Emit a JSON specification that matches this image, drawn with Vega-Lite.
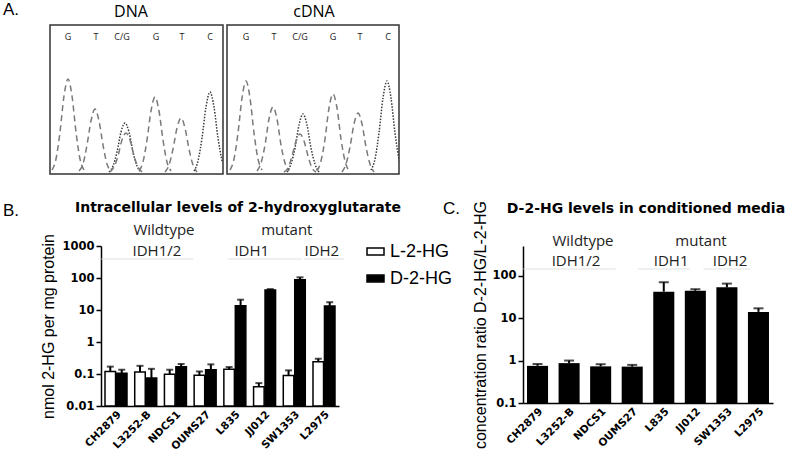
{
  "$schema": "https://vega.github.io/schema/vega-lite/v6.json",
  "padding": {"left": 2, "top": 1, "right": 0, "bottom": 0},
  "columns": 1,
  "align": "none",
  "bounds": "full",
  "spacing": 24,
  "resolve": {"scale": {"fill": "independent", "color": "independent", "strokeDash": "independent"}, "legend": {"fill": "independent", "color": "independent", "strokeDash": "independent"}},
  "datasets": {
    "trace": [
      {"p":"DNA","id":"d1","s":"dash","x":2,"y":4},{"p":"DNA","id":"d1","s":"dash","x":6,"y":15},{"p":"DNA","id":"d1","s":"dash","x":10,"y":42},{"p":"DNA","id":"d1","s":"dash","x":14,"y":78},{"p":"DNA","id":"d1","s":"dash","x":18,"y":95},{"p":"DNA","id":"d1","s":"dash","x":22,"y":78},{"p":"DNA","id":"d1","s":"dash","x":26,"y":42},{"p":"DNA","id":"d1","s":"dash","x":30,"y":15},{"p":"DNA","id":"d1","s":"dash","x":34,"y":4},
      {"p":"DNA","id":"d2","s":"dash","x":29,"y":3},{"p":"DNA","id":"d2","s":"dash","x":33,"y":10},{"p":"DNA","id":"d2","s":"dash","x":37,"y":29},{"p":"DNA","id":"d2","s":"dash","x":41,"y":53},{"p":"DNA","id":"d2","s":"dash","x":45,"y":65},{"p":"DNA","id":"d2","s":"dash","x":49,"y":53},{"p":"DNA","id":"d2","s":"dash","x":53,"y":29},{"p":"DNA","id":"d2","s":"dash","x":57,"y":10},{"p":"DNA","id":"d2","s":"dash","x":61,"y":3},
      {"p":"DNA","id":"d3","s":"dot","x":59,"y":2},{"p":"DNA","id":"d3","s":"dot","x":63,"y":8},{"p":"DNA","id":"d3","s":"dot","x":67,"y":22},{"p":"DNA","id":"d3","s":"dot","x":71,"y":42},{"p":"DNA","id":"d3","s":"dot","x":75,"y":51},{"p":"DNA","id":"d3","s":"dot","x":79,"y":42},{"p":"DNA","id":"d3","s":"dot","x":83,"y":22},{"p":"DNA","id":"d3","s":"dot","x":87,"y":8},{"p":"DNA","id":"d3","s":"dot","x":91,"y":2},
      {"p":"DNA","id":"d4","s":"dash","x":60,"y":2},{"p":"DNA","id":"d4","s":"dash","x":64,"y":7},{"p":"DNA","id":"d4","s":"dash","x":68,"y":18},{"p":"DNA","id":"d4","s":"dash","x":72,"y":34},{"p":"DNA","id":"d4","s":"dash","x":76,"y":41},{"p":"DNA","id":"d4","s":"dash","x":80,"y":34},{"p":"DNA","id":"d4","s":"dash","x":84,"y":18},{"p":"DNA","id":"d4","s":"dash","x":88,"y":7},{"p":"DNA","id":"d4","s":"dash","x":92,"y":2},
      {"p":"DNA","id":"d5","s":"dash","x":89,"y":3},{"p":"DNA","id":"d5","s":"dash","x":93,"y":12},{"p":"DNA","id":"d5","s":"dash","x":97,"y":34},{"p":"DNA","id":"d5","s":"dash","x":101,"y":63},{"p":"DNA","id":"d5","s":"dash","x":105,"y":77},{"p":"DNA","id":"d5","s":"dash","x":109,"y":63},{"p":"DNA","id":"d5","s":"dash","x":113,"y":34},{"p":"DNA","id":"d5","s":"dash","x":117,"y":12},{"p":"DNA","id":"d5","s":"dash","x":121,"y":3},
      {"p":"DNA","id":"d6","s":"dash","x":115,"y":2},{"p":"DNA","id":"d6","s":"dash","x":119,"y":9},{"p":"DNA","id":"d6","s":"dash","x":123,"y":25},{"p":"DNA","id":"d6","s":"dash","x":127,"y":46},{"p":"DNA","id":"d6","s":"dash","x":131,"y":56},{"p":"DNA","id":"d6","s":"dash","x":135,"y":46},{"p":"DNA","id":"d6","s":"dash","x":139,"y":25},{"p":"DNA","id":"d6","s":"dash","x":143,"y":9},{"p":"DNA","id":"d6","s":"dash","x":147,"y":2},
      {"p":"DNA","id":"d7","s":"dot","x":144,"y":3},{"p":"DNA","id":"d7","s":"dot","x":148,"y":13},{"p":"DNA","id":"d7","s":"dot","x":152,"y":36},{"p":"DNA","id":"d7","s":"dot","x":156,"y":67},{"p":"DNA","id":"d7","s":"dot","x":160,"y":82},{"p":"DNA","id":"d7","s":"dot","x":164,"y":67},{"p":"DNA","id":"d7","s":"dot","x":168,"y":36},{"p":"DNA","id":"d7","s":"dot","x":172,"y":13},
      {"p":"cDNA","id":"c1","s":"dash","x":3,"y":4},{"p":"cDNA","id":"c1","s":"dash","x":7,"y":15},{"p":"cDNA","id":"c1","s":"dash","x":11,"y":41},{"p":"cDNA","id":"c1","s":"dash","x":15,"y":76},{"p":"cDNA","id":"c1","s":"dash","x":19,"y":93},{"p":"cDNA","id":"c1","s":"dash","x":23,"y":76},{"p":"cDNA","id":"c1","s":"dash","x":27,"y":41},{"p":"cDNA","id":"c1","s":"dash","x":31,"y":15},{"p":"cDNA","id":"c1","s":"dash","x":35,"y":4},
      {"p":"cDNA","id":"c2","s":"dash","x":30,"y":3},{"p":"cDNA","id":"c2","s":"dash","x":34,"y":11},{"p":"cDNA","id":"c2","s":"dash","x":38,"y":29},{"p":"cDNA","id":"c2","s":"dash","x":42,"y":55},{"p":"cDNA","id":"c2","s":"dash","x":46,"y":67},{"p":"cDNA","id":"c2","s":"dash","x":50,"y":55},{"p":"cDNA","id":"c2","s":"dash","x":54,"y":29},{"p":"cDNA","id":"c2","s":"dash","x":58,"y":11},{"p":"cDNA","id":"c2","s":"dash","x":62,"y":3},
      {"p":"cDNA","id":"c3","s":"dot","x":60,"y":2},{"p":"cDNA","id":"c3","s":"dot","x":64,"y":10},{"p":"cDNA","id":"c3","s":"dot","x":68,"y":26},{"p":"cDNA","id":"c3","s":"dot","x":72,"y":49},{"p":"cDNA","id":"c3","s":"dot","x":76,"y":60},{"p":"cDNA","id":"c3","s":"dot","x":80,"y":49},{"p":"cDNA","id":"c3","s":"dot","x":84,"y":26},{"p":"cDNA","id":"c3","s":"dot","x":88,"y":10},{"p":"cDNA","id":"c3","s":"dot","x":92,"y":2},
      {"p":"cDNA","id":"c4","s":"dash","x":57,"y":2},{"p":"cDNA","id":"c4","s":"dash","x":61,"y":6},{"p":"cDNA","id":"c4","s":"dash","x":65,"y":18},{"p":"cDNA","id":"c4","s":"dash","x":69,"y":33},{"p":"cDNA","id":"c4","s":"dash","x":73,"y":40},{"p":"cDNA","id":"c4","s":"dash","x":77,"y":33},{"p":"cDNA","id":"c4","s":"dash","x":81,"y":18},{"p":"cDNA","id":"c4","s":"dash","x":85,"y":6},{"p":"cDNA","id":"c4","s":"dash","x":89,"y":2},
      {"p":"cDNA","id":"c5","s":"dash","x":90,"y":3},{"p":"cDNA","id":"c5","s":"dash","x":94,"y":13},{"p":"cDNA","id":"c5","s":"dash","x":98,"y":35},{"p":"cDNA","id":"c5","s":"dash","x":102,"y":66},{"p":"cDNA","id":"c5","s":"dash","x":106,"y":80},{"p":"cDNA","id":"c5","s":"dash","x":110,"y":66},{"p":"cDNA","id":"c5","s":"dash","x":114,"y":35},{"p":"cDNA","id":"c5","s":"dash","x":118,"y":13},{"p":"cDNA","id":"c5","s":"dash","x":122,"y":3},
      {"p":"cDNA","id":"c6","s":"dash","x":115,"y":2},{"p":"cDNA","id":"c6","s":"dash","x":119,"y":10},{"p":"cDNA","id":"c6","s":"dash","x":123,"y":27},{"p":"cDNA","id":"c6","s":"dash","x":127,"y":50},{"p":"cDNA","id":"c6","s":"dash","x":131,"y":61},{"p":"cDNA","id":"c6","s":"dash","x":135,"y":50},{"p":"cDNA","id":"c6","s":"dash","x":139,"y":27},{"p":"cDNA","id":"c6","s":"dash","x":143,"y":10},{"p":"cDNA","id":"c6","s":"dash","x":147,"y":2},
      {"p":"cDNA","id":"c7","s":"dot","x":144,"y":4},{"p":"cDNA","id":"c7","s":"dot","x":148,"y":15},{"p":"cDNA","id":"c7","s":"dot","x":152,"y":41},{"p":"cDNA","id":"c7","s":"dot","x":156,"y":76},{"p":"cDNA","id":"c7","s":"dot","x":160,"y":93},{"p":"cDNA","id":"c7","s":"dot","x":164,"y":76},{"p":"cDNA","id":"c7","s":"dot","x":168,"y":41},{"p":"cDNA","id":"c7","s":"dot","x":172,"y":15},{"p":"cDNA","id":"c7","s":"dot","x":176,"y":4}
    ],
    "bases": [
      {"p":"DNA","pos":18,"base":"G"},{"p":"DNA","pos":46,"base":"T"},{"p":"DNA","pos":72,"base":"C/G"},{"p":"DNA","pos":106,"base":"G"},{"p":"DNA","pos":132,"base":"T"},{"p":"DNA","pos":160,"base":"C"},
      {"p":"cDNA","pos":19,"base":"G"},{"p":"cDNA","pos":47,"base":"T"},{"p":"cDNA","pos":73,"base":"C/G"},{"p":"cDNA","pos":106,"base":"G"},{"p":"cDNA","pos":133,"base":"T"},{"p":"cDNA","pos":161,"base":"C"}
    ],
    "hgB": [
      {"line":"CH2879","type":"L-2-HG","value":0.12,"upper":0.17},
      {"line":"CH2879","type":"D-2-HG","value":0.105,"upper":0.136},
      {"line":"L3252-B","type":"L-2-HG","value":0.115,"upper":0.18},
      {"line":"L3252-B","type":"D-2-HG","value":0.075,"upper":0.145},
      {"line":"NDCS1","type":"L-2-HG","value":0.098,"upper":0.136},
      {"line":"NDCS1","type":"D-2-HG","value":0.17,"upper":0.205},
      {"line":"OUMS27","type":"L-2-HG","value":0.092,"upper":0.12},
      {"line":"OUMS27","type":"D-2-HG","value":0.135,"upper":0.2},
      {"line":"L835","type":"L-2-HG","value":0.14,"upper":0.165},
      {"line":"L835","type":"D-2-HG","value":13.5,"upper":21},
      {"line":"JJ012","type":"L-2-HG","value":0.04,"upper":0.052},
      {"line":"JJ012","type":"D-2-HG","value":42,"upper":45},
      {"line":"SW1353","type":"L-2-HG","value":0.09,"upper":0.13},
      {"line":"SW1353","type":"D-2-HG","value":88,"upper":105},
      {"line":"L2975","type":"L-2-HG","value":0.24,"upper":0.3},
      {"line":"L2975","type":"D-2-HG","value":13.3,"upper":17.5}
    ],
    "ratioC": [
      {"line":"CH2879","value":0.75,"upper":0.83},
      {"line":"L3252-B","value":0.87,"upper":1.0},
      {"line":"NDCS1","value":0.73,"upper":0.82},
      {"line":"OUMS27","value":0.72,"upper":0.79},
      {"line":"L835","value":42,"upper":70},
      {"line":"JJ012","value":44,"upper":48},
      {"line":"SW1353","value":53,"upper":65},
      {"line":"L2975","value":14,"upper":17}
    ]
  },
  "concat": [
    {
      "hconcat": [
        {
          "width": 122, "height": 149,
          "layer": [
            {"data": {"values": [{}]},
             "mark": {"type": "rect", "fillOpacity": 0, "stroke": "#333", "strokeWidth": 1.5},
             "encoding": {
               "x": {"datum": 0, "type": "quantitative", "scale": {"domain": [51, 173], "nice": false, "zero": false}, "axis": null},
               "x2": {"datum": 173},
               "y": {"datum": 0, "type": "quantitative", "scale": {"domain": [0, 149], "nice": false}, "axis": null},
               "y2": {"datum": 149}
             }},
            {"data": {"name": "trace"}, "transform": [{"filter": "datum.p === 'DNA'"}],
             "mark": {"type": "line", "interpolate": "monotone", "strokeWidth": 1.5},
             "encoding": {
               "x": {"field": "x", "type": "quantitative", "scale": {"domain": [51, 173], "nice": false, "zero": false}, "axis": null},
               "y": {"field": "y", "type": "quantitative", "scale": {"domain": [0, 149], "nice": false}, "axis": null},
               "detail": {"field": "id"},
               "strokeDash": {"field": "s", "type": "nominal", "scale": {"domain": ["dash", "dot"], "range": [[6, 4], [1.5, 1.5]]}, "legend": null},
               "color": {"field": "s", "type": "nominal", "scale": {"domain": ["dash", "dot"], "range": ["#7a7a7a", "#3a3a3a"]}, "legend": null}
             }},
            {"data": {"name": "bases"}, "transform": [{"filter": "datum.p === 'DNA'"}],
             "mark": {"type": "text", "font": "Open Sans", "fontSize": 9, "color": "#222"},
             "encoding": {
               "x": {"field": "pos", "type": "quantitative", "scale": {"domain": [51, 173], "nice": false, "zero": false}, "axis": null},
               "y": {"datum": 137, "type": "quantitative", "scale": {"domain": [0, 149], "nice": false}, "axis": null},
               "text": {"field": "base"}
             }},
            {"data": {"values": [{}]},
             "mark": {"type": "text", "font": "Liberation Sans", "fontSize": 17, "align": "left", "baseline": "middle", "color": "black"},
             "encoding": {
               "x": {"datum": -47, "type": "quantitative", "scale": {"domain": [51, 173], "nice": false, "zero": false}, "axis": null},
               "y": {"datum": 164, "type": "quantitative", "scale": {"domain": [0, 149], "nice": false}, "axis": null},
               "text": {"value": "A."}
             }},
            {"data": {"values": [{}]},
             "mark": {"type": "text", "font": "Open Sans", "fontSize": 16, "baseline": "middle", "color": "black"},
             "encoding": {
               "x": {"datum": 81, "type": "quantitative", "scale": {"domain": [51, 173], "nice": false, "zero": false}, "axis": null},
               "y": {"datum": 162, "type": "quantitative", "scale": {"domain": [0, 149], "nice": false}, "axis": null},
               "text": {"value": "DNA"}
             }}
          ]
        },
        {
          "width": 172, "height": 149,
          "view": {"stroke": "#333", "strokeWidth": 1.5},
          "layer": [
            {"data": {"name": "trace"}, "transform": [{"filter": "datum.p === 'cDNA'"}],
             "mark": {"type": "line", "interpolate": "monotone", "clip": true, "strokeWidth": 1.5},
             "encoding": {
               "x": {"field": "x", "type": "quantitative", "scale": {"domain": [0, 172], "nice": false}, "axis": null},
               "y": {"field": "y", "type": "quantitative", "scale": {"domain": [0, 149], "nice": false}, "axis": null},
               "detail": {"field": "id"},
               "strokeDash": {"field": "s", "type": "nominal", "scale": {"domain": ["dash", "dot"], "range": [[6, 4], [1.5, 1.5]]}, "legend": null},
               "color": {"field": "s", "type": "nominal", "scale": {"domain": ["dash", "dot"], "range": ["#7a7a7a", "#3a3a3a"]}, "legend": null}
             }},
            {"data": {"name": "bases"}, "transform": [{"filter": "datum.p === 'cDNA'"}],
             "mark": {"type": "text", "font": "Open Sans", "fontSize": 9, "color": "#222"},
             "encoding": {
               "x": {"field": "pos", "type": "quantitative", "scale": {"domain": [0, 172], "nice": false}, "axis": null},
               "y": {"datum": 137, "type": "quantitative", "scale": {"domain": [0, 149], "nice": false}, "axis": null},
               "text": {"field": "base"}
             }},
            {"data": {"values": [{}]},
             "mark": {"type": "text", "font": "Open Sans", "fontSize": 16, "baseline": "middle", "color": "black"},
             "encoding": {
               "x": {"datum": 87, "type": "quantitative", "scale": {"domain": [0, 172], "nice": false}, "axis": null},
               "y": {"datum": 162, "type": "quantitative", "scale": {"domain": [0, 149], "nice": false}, "axis": null},
               "text": {"value": "cDNA"}
             }}
          ]
        }
      ],
      "spacing": 4,
      "bounds": "flush",
      "resolve": {"scale": {"color": "independent", "strokeDash": "independent"}, "legend": {"color": "independent", "strokeDash": "independent"}}
    },
    {
      "hconcat": [
        {
          "width": 238, "height": 160,
          "layer": [
            {"data": {"name": "hgB"},
             "mark": {"type": "bar", "stroke": "black", "strokeWidth": 1.5},
             "encoding": {
               "x": {"field": "line", "type": "nominal", "scale": {"domain": ["CH2879","L3252-B","NDCS1","OUMS27","L835","JJ012","SW1353","L2975"], "paddingInner": 0.26, "paddingOuter": 0.135},
                     "axis": {"title": null, "labelAngle": -45, "labelFont": "DejaVu Sans", "labelFontWeight": "bold", "labelFontSize": 10.5, "ticks": false, "labelPadding": 3}},
               "xOffset": {"field": "type", "scale": {"domain": ["L-2-HG", "D-2-HG"], "paddingInner": 0.08}},
               "y": {"field": "value", "type": "quantitative", "scale": {"type": "log", "domain": [0.01, 1000]},
                     "axis": {"title": "nmol 2-HG per mg protein", "titlePadding": 5, "values": [0.01, 0.1, 1, 10, 100, 1000], "format": "~g"}},
               "y2": {"datum": 0.01},
               "fill": {"field": "type", "type": "nominal", "scale": {"domain": ["L-2-HG", "D-2-HG"], "range": ["white", "black"]},
                        "legend": {"title": null, "orient": "none", "legendX": 265, "legendY": -4, "symbolType": "M-1,-0.4L1,-0.4L1,0.4L-1,0.4Z", "symbolSize": 289, "symbolStrokeColor": "black", "symbolStrokeWidth": 1.5, "labelFont": "Liberation Sans", "labelFontSize": 18, "labelColor": "black", "rowPadding": 8, "labelOffset": 5}}
             }},
            {"data": {"name": "hgB"},
             "mark": {"type": "rule", "strokeWidth": 2, "color": "black"},
             "encoding": {
               "x": {"field": "line", "type": "nominal", "scale": {"domain": ["CH2879","L3252-B","NDCS1","OUMS27","L835","JJ012","SW1353","L2975"], "paddingInner": 0.26, "paddingOuter": 0.135}},
               "xOffset": {"field": "type", "scale": {"domain": ["L-2-HG", "D-2-HG"], "paddingInner": 0.08}},
               "y": {"field": "value", "type": "quantitative", "scale": {"type": "log", "domain": [0.01, 1000]}, "axis": {"title": "nmol 2-HG per mg protein", "titlePadding": 5, "values": [0.01, 0.1, 1, 10, 100, 1000], "format": "~g"}},
               "y2": {"field": "upper"}
             }},
            {"data": {"name": "hgB"},
             "mark": {"type": "tick", "orient": "horizontal", "thickness": 2, "size": 7, "color": "black"},
             "encoding": {
               "x": {"field": "line", "type": "nominal", "scale": {"domain": ["CH2879","L3252-B","NDCS1","OUMS27","L835","JJ012","SW1353","L2975"], "paddingInner": 0.26, "paddingOuter": 0.135}},
               "xOffset": {"field": "type", "scale": {"domain": ["L-2-HG", "D-2-HG"], "paddingInner": 0.08}},
               "y": {"field": "upper", "type": "quantitative", "scale": {"type": "log", "domain": [0.01, 1000]}, "axis": {"title": "nmol 2-HG per mg protein", "titlePadding": 5, "values": [0.01, 0.1, 1, 10, 100, 1000], "format": "~g"}}
             }},
            {"data": {"values": [{}]},
             "mark": {"type": "text", "font": "DejaVu Sans", "fontSize": 14, "fontWeight": "bold", "baseline": "middle", "color": "black"},
             "encoding": {"x": {"datum": "L835", "type": "nominal", "bandPosition": 0.64}, "y": {"datum": 15400, "type": "quantitative", "scale": {"type": "log", "domain": [0.01, 1000]}, "axis": {"title": "nmol 2-HG per mg protein", "titlePadding": 5, "values": [0.01, 0.1, 1, 10, 100, 1000], "format": "~g"}}, "text": {"value": "Intracellular levels of 2-hydroxyglutarate"}}},
            {"data": {"values": [{}]},
             "mark": {"type": "text", "font": "Liberation Sans", "fontSize": 17, "align": "left", "baseline": "middle", "color": "black"},
             "encoding": {"x": {"datum": "CH2879", "type": "nominal", "bandPosition": -4.64}, "y": {"datum": 12400, "type": "quantitative", "scale": {"type": "log", "domain": [0.01, 1000]}, "axis": {"title": "nmol 2-HG per mg protein", "titlePadding": 5, "values": [0.01, 0.1, 1, 10, 100, 1000], "format": "~g"}}, "text": {"value": "B."}}},
            {"data": {"values": [{}]},
             "mark": {"type": "text", "font": "Open Sans", "fontSize": 15, "baseline": "middle", "color": "#222"},
             "encoding": {"x": {"datum": "L3252-B", "type": "nominal", "bandPosition": 1.33}, "y": {"datum": 3162, "type": "quantitative", "scale": {"type": "log", "domain": [0.01, 1000]}, "axis": {"title": "nmol 2-HG per mg protein", "titlePadding": 5, "values": [0.01, 0.1, 1, 10, 100, 1000], "format": "~g"}}, "text": {"value": "Wildtype"}}},
            {"data": {"values": [{}]},
             "mark": {"type": "text", "font": "Open Sans", "fontSize": 15, "baseline": "middle", "color": "#222"},
             "encoding": {"x": {"datum": "L3252-B", "type": "nominal", "bandPosition": 1.01}, "y": {"datum": 698, "type": "quantitative", "scale": {"type": "log", "domain": [0.01, 1000]}, "axis": {"title": "nmol 2-HG per mg protein", "titlePadding": 5, "values": [0.01, 0.1, 1, 10, 100, 1000], "format": "~g"}}, "text": {"value": "IDH1/2"}}},
            {"data": {"values": [{}]},
             "mark": {"type": "text", "font": "Open Sans", "fontSize": 15, "baseline": "middle", "color": "#222"},
             "encoding": {"x": {"datum": "SW1353", "type": "nominal", "bandPosition": 0.16}, "y": {"datum": 3162, "type": "quantitative", "scale": {"type": "log", "domain": [0.01, 1000]}, "axis": {"title": "nmol 2-HG per mg protein", "titlePadding": 5, "values": [0.01, 0.1, 1, 10, 100, 1000], "format": "~g"}}, "text": {"value": "mutant"}}},
            {"data": {"values": [{}]},
             "mark": {"type": "text", "font": "Open Sans", "fontSize": 15, "baseline": "middle", "color": "#222"},
             "encoding": {"x": {"datum": "L835", "type": "nominal", "bandPosition": 1.27}, "y": {"datum": 698, "type": "quantitative", "scale": {"type": "log", "domain": [0.01, 1000]}, "axis": {"title": "nmol 2-HG per mg protein", "titlePadding": 5, "values": [0.01, 0.1, 1, 10, 100, 1000], "format": "~g"}}, "text": {"value": "IDH1"}}},
            {"data": {"values": [{}]},
             "mark": {"type": "text", "font": "Open Sans", "fontSize": 15, "baseline": "middle", "color": "#222"},
             "encoding": {"x": {"datum": "L2975", "type": "nominal", "bandPosition": 0.4}, "y": {"datum": 698, "type": "quantitative", "scale": {"type": "log", "domain": [0.01, 1000]}, "axis": {"title": "nmol 2-HG per mg protein", "titlePadding": 5, "values": [0.01, 0.1, 1, 10, 100, 1000], "format": "~g"}}, "text": {"value": "IDH2"}}},
            {"data": {"values": [{}]},
             "mark": {"type": "tick", "orient": "horizontal", "size": 95, "thickness": 1, "color": "#d4d4d4"},
             "encoding": {"x": {"datum": "L3252-B", "type": "nominal", "bandPosition": 1.4}, "y": {"datum": 390, "type": "quantitative", "scale": {"type": "log", "domain": [0.01, 1000]}, "axis": {"title": "nmol 2-HG per mg protein", "titlePadding": 5, "values": [0.01, 0.1, 1, 10, 100, 1000], "format": "~g"}}}},
            {"data": {"values": [{}]},
             "mark": {"type": "tick", "orient": "horizontal", "size": 74, "thickness": 1, "color": "#d4d4d4"},
             "encoding": {"x": {"datum": "JJ012", "type": "nominal", "bandPosition": 0.1}, "y": {"datum": 390, "type": "quantitative", "scale": {"type": "log", "domain": [0.01, 1000]}, "axis": {"title": "nmol 2-HG per mg protein", "titlePadding": 5, "values": [0.01, 0.1, 1, 10, 100, 1000], "format": "~g"}}}},
            {"data": {"values": [{}]},
             "mark": {"type": "tick", "orient": "horizontal", "size": 40, "thickness": 1, "color": "#d4d4d4"},
             "encoding": {"x": {"datum": "L2975", "type": "nominal", "bandPosition": 0.44}, "y": {"datum": 390, "type": "quantitative", "scale": {"type": "log", "domain": [0.01, 1000]}, "axis": {"title": "nmol 2-HG per mg protein", "titlePadding": 5, "values": [0.01, 0.1, 1, 10, 100, 1000], "format": "~g"}}}}
          ]
        },
        {
          "width": 250, "height": 157,
          "layer": [
            {"data": {"name": "ratioC"},
             "mark": {"type": "bar", "color": "black"},
             "encoding": {
               "x": {"field": "line", "type": "nominal", "scale": {"domain": ["CH2879","L3252-B","NDCS1","OUMS27","L835","JJ012","SW1353","L2975"], "paddingInner": 0.333, "paddingOuter": 0.127},
                     "axis": {"title": null, "labelAngle": -45, "labelFont": "DejaVu Sans", "labelFontWeight": "bold", "labelFontSize": 10.5, "ticks": false, "labelPadding": 3}},
               "y": {"field": "value", "type": "quantitative", "scale": {"type": "log", "domain": [0.1, 500]},
                     "axis": {"title": "concentration ratio D-2-HG/L-2-HG", "titlePadding": 3, "values": [0.1, 1, 10, 100], "format": "~g"}},
               "y2": {"datum": 0.1}
             }},
            {"data": {"name": "ratioC"},
             "mark": {"type": "rule", "strokeWidth": 2, "color": "black"},
             "encoding": {
               "x": {"field": "line", "type": "nominal", "scale": {"domain": ["CH2879","L3252-B","NDCS1","OUMS27","L835","JJ012","SW1353","L2975"], "paddingInner": 0.333, "paddingOuter": 0.127}},
               "y": {"field": "value", "type": "quantitative", "scale": {"type": "log", "domain": [0.1, 500]}, "axis": {"title": "concentration ratio D-2-HG/L-2-HG", "titlePadding": 3, "values": [0.1, 1, 10, 100], "format": "~g"}},
               "y2": {"field": "upper"}
             }},
            {"data": {"name": "ratioC"},
             "mark": {"type": "tick", "orient": "horizontal", "thickness": 2, "size": 10, "color": "black"},
             "encoding": {
               "x": {"field": "line", "type": "nominal", "scale": {"domain": ["CH2879","L3252-B","NDCS1","OUMS27","L835","JJ012","SW1353","L2975"], "paddingInner": 0.333, "paddingOuter": 0.127}},
               "y": {"field": "upper", "type": "quantitative", "scale": {"type": "log", "domain": [0.1, 500]}, "axis": {"title": "concentration ratio D-2-HG/L-2-HG", "titlePadding": 3, "values": [0.1, 1, 10, 100], "format": "~g"}}
             }},
            {"data": {"values": [{}]},
             "mark": {"type": "text", "font": "DejaVu Sans", "fontSize": 14, "fontWeight": "bold", "baseline": "middle", "color": "black"},
             "encoding": {"x": {"datum": "OUMS27", "type": "nominal", "bandPosition": 1.15}, "y": {"datum": 3724, "type": "quantitative", "scale": {"type": "log", "domain": [0.1, 500]}, "axis": {"title": "concentration ratio D-2-HG/L-2-HG", "titlePadding": 3, "values": [0.1, 1, 10, 100], "format": "~g"}}, "text": {"value": "D-2-HG levels in conditioned media"}}},
            {"data": {"values": [{}]},
             "mark": {"type": "text", "font": "Liberation Sans", "fontSize": 17, "align": "left", "baseline": "middle", "color": "black"},
             "encoding": {"x": {"datum": "CH2879", "type": "nominal", "bandPosition": -3.99}, "y": {"datum": 3724, "type": "quantitative", "scale": {"type": "log", "domain": [0.1, 500]}, "axis": {"title": "concentration ratio D-2-HG/L-2-HG", "titlePadding": 3, "values": [0.1, 1, 10, 100], "format": "~g"}}, "text": {"value": "C."}}},
            {"data": {"values": [{}]},
             "mark": {"type": "text", "font": "Open Sans", "fontSize": 15, "baseline": "middle", "color": "#222"},
             "encoding": {"x": {"datum": "L3252-B", "type": "nominal", "bandPosition": 1.16}, "y": {"datum": 656, "type": "quantitative", "scale": {"type": "log", "domain": [0.1, 500]}, "axis": {"title": "concentration ratio D-2-HG/L-2-HG", "titlePadding": 3, "values": [0.1, 1, 10, 100], "format": "~g"}}, "text": {"value": "Wildtype"}}},
            {"data": {"values": [{}]},
             "mark": {"type": "text", "font": "Open Sans", "fontSize": 15, "baseline": "middle", "color": "#222"},
             "encoding": {"x": {"datum": "L3252-B", "type": "nominal", "bandPosition": 0.83}, "y": {"datum": 222, "type": "quantitative", "scale": {"type": "log", "domain": [0.1, 500]}, "axis": {"title": "concentration ratio D-2-HG/L-2-HG", "titlePadding": 3, "values": [0.1, 1, 10, 100], "format": "~g"}}, "text": {"value": "IDH1/2"}}},
            {"data": {"values": [{}]},
             "mark": {"type": "text", "font": "Open Sans", "fontSize": 15, "baseline": "middle", "color": "#222"},
             "encoding": {"x": {"datum": "JJ012", "type": "nominal", "bandPosition": 0.77}, "y": {"datum": 656, "type": "quantitative", "scale": {"type": "log", "domain": [0.1, 500]}, "axis": {"title": "concentration ratio D-2-HG/L-2-HG", "titlePadding": 3, "values": [0.1, 1, 10, 100], "format": "~g"}}, "text": {"value": "mutant"}}},
            {"data": {"values": [{}]},
             "mark": {"type": "text", "font": "Open Sans", "fontSize": 15, "baseline": "middle", "color": "#222"},
             "encoding": {"x": {"datum": "L835", "type": "nominal", "bandPosition": 0.85}, "y": {"datum": 222, "type": "quantitative", "scale": {"type": "log", "domain": [0.1, 500]}, "axis": {"title": "concentration ratio D-2-HG/L-2-HG", "titlePadding": 3, "values": [0.1, 1, 10, 100], "format": "~g"}}, "text": {"value": "IDH1"}}},
            {"data": {"values": [{}]},
             "mark": {"type": "text", "font": "Open Sans", "fontSize": 15, "baseline": "middle", "color": "#222"},
             "encoding": {"x": {"datum": "SW1353", "type": "nominal", "bandPosition": 0.65}, "y": {"datum": 222, "type": "quantitative", "scale": {"type": "log", "domain": [0.1, 500]}, "axis": {"title": "concentration ratio D-2-HG/L-2-HG", "titlePadding": 3, "values": [0.1, 1, 10, 100], "format": "~g"}}, "text": {"value": "IDH2"}}},
            {"data": {"values": [{}]},
             "mark": {"type": "tick", "orient": "horizontal", "size": 93, "thickness": 1, "color": "#d4d4d4"},
             "encoding": {"x": {"datum": "L3252-B", "type": "nominal", "bandPosition": 0.9}, "y": {"datum": 144, "type": "quantitative", "scale": {"type": "log", "domain": [0.1, 500]}, "axis": {"title": "concentration ratio D-2-HG/L-2-HG", "titlePadding": 3, "values": [0.1, 1, 10, 100], "format": "~g"}}}},
            {"data": {"values": [{}]},
             "mark": {"type": "tick", "orient": "horizontal", "size": 52, "thickness": 1, "color": "#d4d4d4"},
             "encoding": {"x": {"datum": "L835", "type": "nominal", "bandPosition": 0.8}, "y": {"datum": 144, "type": "quantitative", "scale": {"type": "log", "domain": [0.1, 500]}, "axis": {"title": "concentration ratio D-2-HG/L-2-HG", "titlePadding": 3, "values": [0.1, 1, 10, 100], "format": "~g"}}}},
            {"data": {"values": [{}]},
             "mark": {"type": "tick", "orient": "horizontal", "size": 47, "thickness": 1, "color": "#d4d4d4"},
             "encoding": {"x": {"datum": "SW1353", "type": "nominal", "bandPosition": 0.76}, "y": {"datum": 144, "type": "quantitative", "scale": {"type": "log", "domain": [0.1, 500]}, "axis": {"title": "concentration ratio D-2-HG/L-2-HG", "titlePadding": 3, "values": [0.1, 1, 10, 100], "format": "~g"}}}}
          ]
        }
      ],
      "spacing": 184,
      "bounds": "flush",
      "resolve": {"scale": {"fill": "independent"}, "legend": {"fill": "independent"}}
    }
  ],
  "config": {
    "view": {"stroke": null},
    "axis": {"grid": false, "domainColor": "black", "domainWidth": 1.5, "tickColor": "black", "tickWidth": 1.5, "labelColor": "black", "titleColor": "black"},
    "axisY": {"titleFont": "Liberation Sans", "titleFontSize": 16, "titleFontWeight": "normal", "labelFont": "DejaVu Sans", "labelFontWeight": "bold", "labelFontSize": 11.5, "labelPadding": 2, "tickSize": 5},
    "text": {"color": "black"},
    "title": {"color": "black"}
  }
}
